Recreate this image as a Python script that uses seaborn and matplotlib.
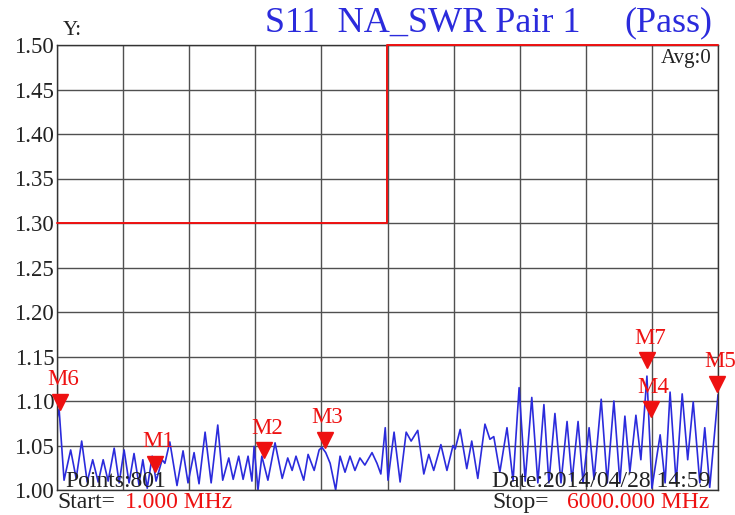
import numpy as np
import pandas as pd
import seaborn as sns
import matplotlib
matplotlib.use('Agg')
import matplotlib.pyplot as plt
from matplotlib.transforms import offset_copy


# trace: frequency (MHz) and SWR at each peak / dip
freq_mhz = [1, 20, 65, 125, 175, 225, 275, 325, 375, 420, 465, 520, 565, 610,
            655, 700, 745, 780, 820, 865, 900, 955, 980, 1025, 1090, 1145, 1190,
            1245, 1290, 1345, 1400, 1460, 1505, 1560, 1600, 1650, 1690, 1735,
            1770, 1790, 1825, 1860, 1915, 1980, 2045, 2095, 2135, 2170, 2240,
            2280, 2335, 2380, 2405, 2440, 2480, 2530, 2570, 2615, 2660, 2705,
            2750, 2795, 2860, 2905, 2940, 2980, 3005, 3060, 3115, 3170, 3215,
            3275, 3330, 3375, 3420, 3485, 3540, 3595, 3615, 3660, 3720, 3765,
            3820, 3885, 3930, 3965, 4020, 4085, 4140, 4195, 4250, 4310, 4365,
            4420, 4465, 4520, 4575, 4630, 4675, 4730, 4775, 4830, 4875, 4940,
            4995, 5055, 5110, 5155, 5200, 5255, 5300, 5355, 5400, 5475, 5520,
            5565, 5620, 5675, 5725, 5775, 5835, 5880, 5925, 6000]
swr = [1.080, 1.091, 1.011, 1.045, 1.013, 1.055, 1.009, 1.034, 1.009, 1.034,
       1.010, 1.047, 1.008, 1.045, 1.008, 1.041, 1.006, 1.034, 1.002, 1.038,
       1.010, 1.034, 1.030, 1.054, 1.005, 1.044, 1.008, 1.042, 1.007, 1.065,
       1.008, 1.073, 1.011, 1.036, 1.012, 1.038, 1.012, 1.038, 1.010, 1.049,
       1.000, 1.038, 1.011, 1.053, 1.013, 1.036, 1.022, 1.038, 1.011, 1.040,
       1.022, 1.045, 1.048, 1.042, 1.030, 1.000, 1.038, 1.020, 1.038, 1.022,
       1.036, 1.028, 1.042, 1.030, 1.018, 1.070, 1.011, 1.065, 1.009, 1.065,
       1.055, 1.067, 1.018, 1.040, 1.022, 1.051, 1.022, 1.050, 1.046, 1.068,
       1.024, 1.055, 1.013, 1.074, 1.057, 1.060, 1.020, 1.070, 1.010, 1.115,
       1.010, 1.104, 1.008, 1.096, 1.008, 1.086, 1.008, 1.077, 1.010, 1.077,
       1.008, 1.070, 1.012, 1.102, 1.008, 1.100, 1.008, 1.083, 1.020, 1.084,
       1.034, 1.128, 1.002, 1.062, 1.008, 1.110, 1.008, 1.108, 1.034, 1.099,
       1.008, 1.070, 1.003, 1.107]

# pass/fail limit
limit_freq = [1, 3000, 6000]
limit_swr = [1.30, 1.50, 1.50]

# markers
marker_names = ['M6', 'M1', 'M2', 'M3', 'M7', 'M4', 'M5']
marker_freq = [30, 890, 1880, 2430, 5355, 5390, 5990]
marker_swr = [1.090, 1.021, 1.036, 1.048, 1.137, 1.082, 1.111]

yticks = [1.00, 1.05, 1.10, 1.15, 1.20, 1.25, 1.30, 1.35, 1.40, 1.45, 1.50]

blue = '#2b2bdc'
red = '#ee1111'

sns.set_theme(style='white')
plt.rcParams['font.family'] = ['Liberation Serif', 'DejaVu Serif']

fig = plt.figure(figsize=(7.35, 5.15), dpi=100)
ax = fig.add_axes([57/735, 1 - 490/515, 661/735, 445/515])

trace = pd.DataFrame({'freq': freq_mhz, 'swr': swr})
sns.lineplot(data=trace, x='freq', y='swr', ax=ax, color=blue, linewidth=1.2,
             estimator=None, sort=False)

ax.plot(limit_freq, limit_swr, drawstyle='steps-post', color=red,
        linewidth=1.4, clip_on=False, zorder=5)

ax.set_xlim(1, 6000)
ax.set_ylim(1.0, 1.5)
ax.set_xticks(np.linspace(1, 6000, 11))
ax.set_xticklabels([])
ax.set_yticks(yticks)
ax.set_yticklabels(['%.2f' % t for t in yticks], fontsize=16.5)
ax.tick_params(length=0, pad=2, colors='#222222')
ax.grid(True, color='#505050', linewidth=1.0)
ax.set_xlabel('')
ax.set_ylabel('')
for s in ax.spines.values():
    s.set_color('#333333')
    s.set_linewidth(1.0)

# markers, tip on the trace
tr = offset_copy(ax.transData, fig=fig, y=5.5, units='points')
ax.plot(marker_freq, marker_swr, linestyle='none', marker='v', markersize=11,
        color=red, transform=tr, clip_on=False, zorder=6)
for name, f, v in zip(marker_names, marker_freq, marker_swr):
    ax.annotate(name, (f, v), xytext=(2, 14), textcoords='offset points',
                ha='center', va='bottom', color=red, fontsize=16.5,
                annotation_clip=False)

ax.text(0.008, 1.012, 'Y:', transform=ax.transAxes, fontsize=15,
        ha='left', va='bottom', color='#222222')
ax.text(0.315, 1.03, 'S11  NA_SWR Pair 1', transform=ax.transAxes,
        fontsize=26, color=blue, ha='left', va='baseline')
ax.text(0.858, 1.03, '(Pass)', transform=ax.transAxes,
        fontsize=26, color=blue, ha='left', va='baseline')
ax.text(0.99, 0.99, 'Avg:0', transform=ax.transAxes, fontsize=15,
        ha='right', va='top', color='#222222',
        bbox=dict(facecolor='white', edgecolor='none', pad=0.5))
ax.text(0.012, 0.006, 'Points:801', transform=ax.transAxes, fontsize=17,
        ha='left', va='baseline', color='#222222')
ax.text(0.658, 0.006, 'Date:2014/04/28 14:59', transform=ax.transAxes,
        fontsize=17, ha='left', va='baseline', color='#222222')
ax.text(0.0, -0.041, 'Start=', transform=ax.transAxes, fontsize=17,
        ha='left', va='baseline', color='#222222')
ax.text(0.103, -0.041, '1.000 MHz', transform=ax.transAxes, fontsize=17,
        ha='left', va='baseline', color=red)
ax.text(0.658, -0.041, 'Stop=', transform=ax.transAxes, fontsize=17,
        ha='left', va='baseline', color='#222222')
ax.text(0.771, -0.041, '6000.000 MHz', transform=ax.transAxes, fontsize=17,
        ha='left', va='baseline', color=red)

fig.savefig('out.png', dpi=100, facecolor='white')
